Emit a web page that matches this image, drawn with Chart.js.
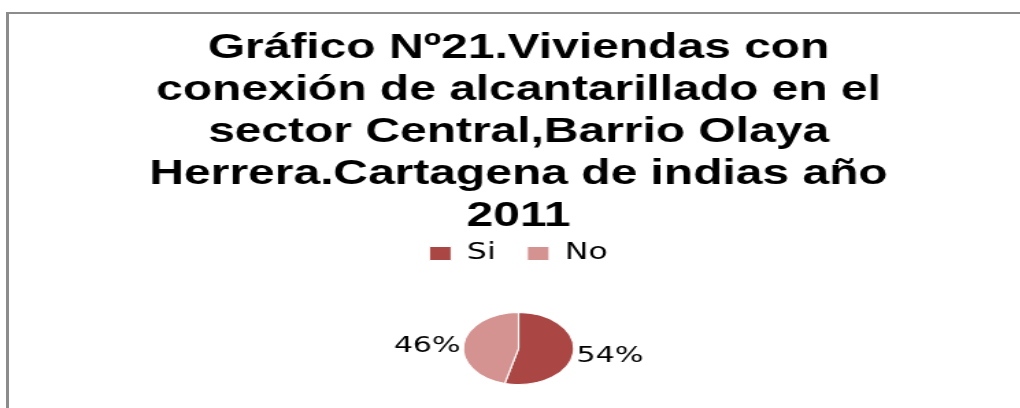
<!DOCTYPE html>
<html>
<head>
<meta charset="utf-8">
<script src="https://cdn.jsdelivr.net/npm/chart.js@4"></script>
<style>
  html, body { margin: 0; padding: 0; background: #fff; overflow: hidden; width: 1020px; height: 408px; }
  #frame { position: absolute; left: 6px; top: 12px; width: 1100px; height: 500px;
           border-left: 3px solid #8c8c8c; border-top: 2px solid #8c8c8c; }
  #wrap { position: absolute; left: 0; top: 0; transform: scaleX(1.37); transform-origin: 0 0; }
</style>
</head>
<body>
<div id="frame"></div>
<div id="wrap"><canvas id="grafico21" width="745" height="408"></canvas></div>
<script>
// datos
var categorias = ['Si', 'No']
var porcentajes = [54, 46]
var colores = ['#AA4745', '#D49391']
var titulo = [
    'Gráfico Nº21.Viviendas con',
    'conexión de alcantarillado en el',
    'sector Central,Barrio Olaya',
    'Herrera.Cartagena de indias año',
    '2011'
]

var pieStretch = 1.12   // el pastel original sale ovalado
var legendGap = 37

Chart.defaults.font.family = "'DejaVu Sans', sans-serif"
Chart.defaults.color = '#000'

var estirarPastel = {
    id: 'estirarPastel',
    beforeLayout: function(chart) {
        var lg = chart.legend
        if (lg && !lg._gap) {
            var fit = lg.fit
            lg.fit = function() { fit.call(this); this.height += legendGap }
            lg._gap = true
        }
    },
    beforeDatasetsDraw: function(chart) {
        var arc = chart.getDatasetMeta(0).data[0]
        var ctx = chart.ctx
        ctx.save()
        ctx.translate(arc.x, 0)
        ctx.scale(pieStretch, 1)
        ctx.translate(-arc.x, 0)
    },
    afterDatasetsDraw: function(chart) {
        var ctx = chart.ctx
        ctx.restore()
        ctx.save()
        ctx.font = "22px 'DejaVu Sans'"
        ctx.fillStyle = '#000'
        ctx.textBaseline = 'middle'
        chart.getDatasetMeta(0).data.forEach(function(arc, i) {
            var mid = (arc.startAngle + arc.endAngle) / 2
            var r = arc.outerRadius + 2
            var x = arc.x + pieStretch * r * Math.cos(mid)
            var y = arc.y + r * Math.sin(mid) + 3
            ctx.textAlign = Math.cos(mid) > 0 ? 'left' : 'right'
            ctx.fillText(porcentajes[i] + '%', x, y)
        })
        ctx.restore()
    }
}

new Chart(document.getElementById('grafico21'), {
    type: 'pie',
    data: {
        labels: categorias,
        datasets: [{
            data: porcentajes,
            backgroundColor: colores,
            borderColor: '#ffffff',
            borderWidth: 1
        }]
    },
    options: {
        responsive: false,
        animation: false,
        devicePixelRatio: 1,
        layout: { padding: { left: 12, bottom: 23 } },
        plugins: {
            title: {
                display: true,
                text: titulo,
                color: '#000',
                font: { family: "'Liberation Sans', Arial, sans-serif", size: 35, weight: 'bold', lineHeight: 1.2 },
                padding: { top: 27, bottom: -18 }
            },
            legend: {
                position: 'top',
                labels: {
                    boxWidth: 16,
                    boxHeight: 14,
                    padding: 23,
                    color: '#000',
                    font: { size: 23 }
                }
            },
            tooltip: { enabled: false }
        }
    },
    plugins: [estirarPastel]
})
</script>
</body>
</html>
